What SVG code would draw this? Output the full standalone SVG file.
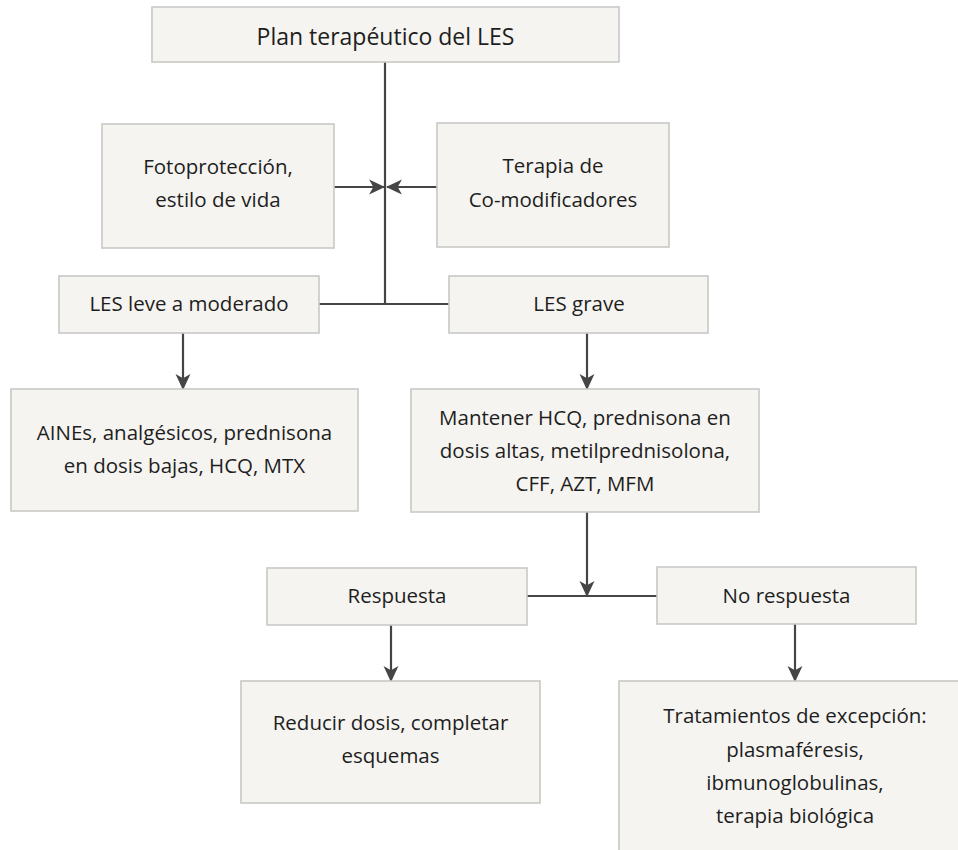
<svg xmlns="http://www.w3.org/2000/svg" width="958" height="850" viewBox="0 0 958 850">
<style>
.box{fill:#f5f4f0;stroke:#c8c8c6;stroke-width:1.6}
.t{font-family:"Open Sans","Noto Sans","DejaVu Sans",sans-serif;font-size:20.5px;fill:#1e1e1e;text-anchor:middle}
.title{font-size:23px}
.ln{stroke:#454545;stroke-width:2.2;fill:none}
</style>
<defs>
<marker id="ah" markerUnits="userSpaceOnUse" markerWidth="16" markerHeight="16" viewBox="0 0 15 15" refX="14" refY="7.5" orient="auto">
<path d="M0,0.5 L15,7.5 L0,14.5 L4,7.5 z" fill="#454545"/>
</marker>
</defs>
<rect width="958" height="850" fill="#ffffff"/>
<g id="connectors">
<path class="ln" d="M385,62 V304"/>
<path class="ln" d="M319,304 H449"/>
<path class="ln" d="M334,187 H384" marker-end="url(#ah)"/>
<path class="ln" d="M438,187 H387" marker-end="url(#ah)"/>
<path class="ln" d="M183,333 V389" marker-end="url(#ah)"/>
<path class="ln" d="M587,333 V389" marker-end="url(#ah)"/>
<path class="ln" d="M587,512 V596" marker-end="url(#ah)"/>
<path class="ln" d="M527,596 H657"/>
<path class="ln" d="M391,625 V681" marker-end="url(#ah)"/>
<path class="ln" d="M795,624 V681" marker-end="url(#ah)"/>
</g>
<g id="plan">
<rect class="box" x="152" y="7" width="467" height="55"/>
<text class="t title" x="385.5" y="45">Plan terapéutico del LES</text>
</g>
<g id="fotoproteccion">
<rect class="box" x="102" y="124" width="232" height="124"/>
<text class="t" x="218" y="174">Fotoprotección,</text>
<text class="t" x="218" y="207">estilo de vida</text>
</g>
<g id="terapia">
<rect class="box" x="437" y="123" width="232" height="124"/>
<text class="t" x="553" y="173">Terapia de</text>
<text class="t" x="553" y="207">Co-modificadores</text>
</g>
<g id="les-leve">
<rect class="box" x="59" y="276" width="260" height="57"/>
<text class="t" x="189" y="311">LES leve a moderado</text>
</g>
<g id="les-grave">
<rect class="box" x="449" y="276" width="259" height="57"/>
<text class="t" x="579" y="311">LES grave</text>
</g>
<g id="aines">
<rect class="box" x="11" y="389" width="347" height="122"/>
<text class="t" x="184.5" y="440">AINEs, analgésicos, prednisona</text>
<text class="t" x="184.5" y="473">en dosis bajas, HCQ, MTX</text>
</g>
<g id="mantener">
<rect class="box" x="411" y="389" width="348" height="123"/>
<text class="t" x="585" y="425">Mantener HCQ, prednisona en</text>
<text class="t" x="585" y="458">dosis altas, metilprednisolona,</text>
<text class="t" x="585" y="491">CFF, AZT, MFM</text>
</g>
<g id="respuesta">
<rect class="box" x="267" y="568" width="260" height="57"/>
<text class="t" x="397" y="603">Respuesta</text>
</g>
<g id="no-respuesta">
<rect class="box" x="657" y="567" width="259" height="57"/>
<text class="t" x="786.5" y="603">No respuesta</text>
</g>
<g id="reducir">
<rect class="box" x="241" y="681" width="299" height="122"/>
<text class="t" x="390.5" y="730">Reducir dosis, completar</text>
<text class="t" x="390.5" y="763">esquemas</text>
</g>
<g id="tratamientos">
<rect class="box" x="619" y="681" width="352" height="180"/>
<text class="t" x="795" y="723">Tratamientos de excepción:</text>
<text class="t" x="795" y="757">plasmaféresis,</text>
<text class="t" x="795" y="790">ibmunoglobulinas,</text>
<text class="t" x="795" y="823">terapia biológica</text>
</g>
</svg>
